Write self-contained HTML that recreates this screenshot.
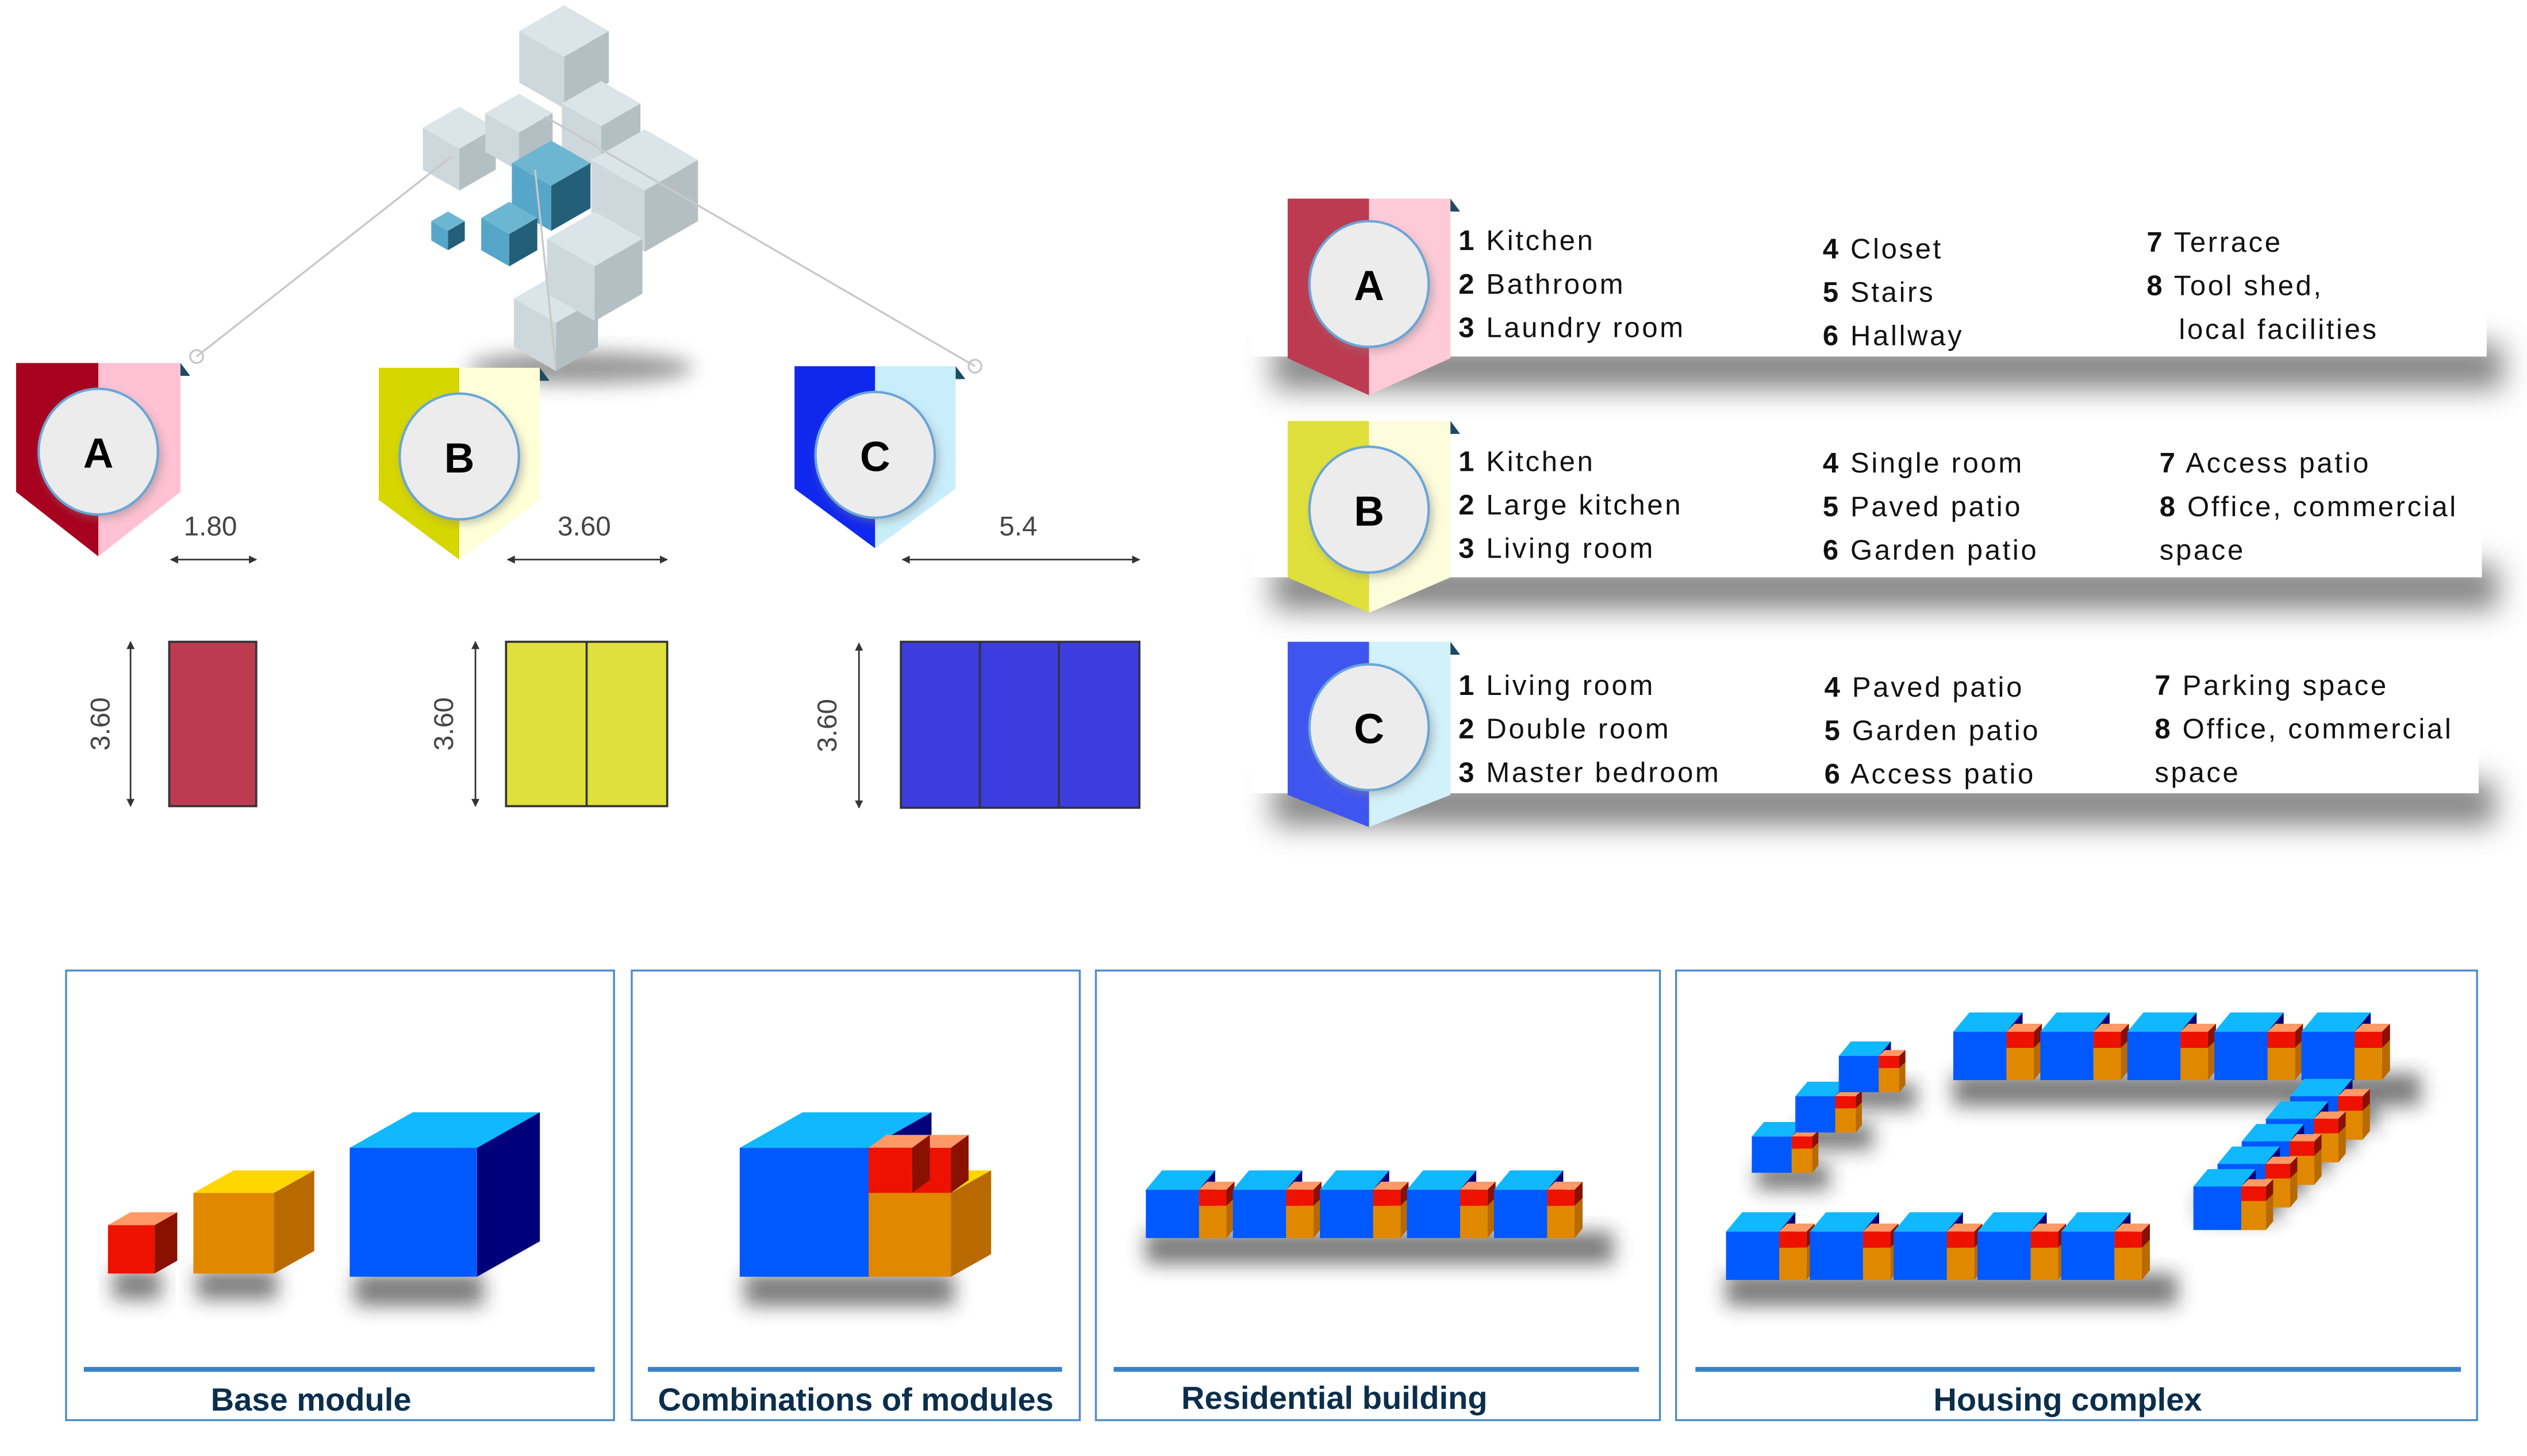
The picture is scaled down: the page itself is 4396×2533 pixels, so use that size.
<!DOCTYPE html>
<html><head><meta charset="utf-8"><style>
html,body{margin:0;padding:0;background:#fff}
svg{display:block}
.t{font-family:"Liberation Sans",sans-serif;font-size:17.5px;fill:#111;letter-spacing:1.3px}
.t tspan.n{font-weight:bold}
.dim{font-family:"Liberation Sans",sans-serif;font-size:17px;fill:#444}
.lbl{font-family:"Liberation Sans",sans-serif;font-size:20px;font-weight:bold;fill:#0b2e4c;text-anchor:middle}
.L{font-family:"Liberation Sans",sans-serif;font-size:26px;font-weight:bold;fill:#000;text-anchor:middle}
</style></head><body>
<svg id="s" width="4396" height="2533" viewBox="0 0 1568 903" xmlns="http://www.w3.org/2000/svg">
<defs>
<filter id="bl" x="-30%" y="-50%" width="160%" height="250%"><feGaussianBlur stdDeviation="6"/></filter>
<filter id="bl3" x="-30%" y="-80%" width="160%" height="300%"><feGaussianBlur stdDeviation="9"/></filter>
<filter id="bl2" x="-30%" y="-30%" width="160%" height="200%"><feGaussianBlur stdDeviation="3"/></filter>
<marker id="ar" viewBox="0 0 10 10" refX="9" refY="5" markerWidth="7" markerHeight="5" orient="auto-start-reverse"><path d="M0,0L10,5L0,10z" fill="#333"/></marker>
</defs>
<g id="cluster"></g>
<g stroke="#c8c8c8" stroke-width="1.2" fill="none">
<line x1="280" y1="97" x2="122" y2="221"/>
<line x1="338" y1="72" x2="605" y2="227"/>
<line x1="332" y1="105" x2="345" y2="228"/>
<circle cx="122" cy="221" r="4"/><circle cx="605" cy="227" r="4"/>
</g>
<g id="banners"></g>
<text class="dim" x="114" y="332">1.80</text>
<text class="dim" x="346" y="332">3.60</text>
<text class="dim" x="620" y="332">5.4</text>
<g stroke="#333" stroke-width="1" marker-start="url(#ar)" marker-end="url(#ar)">
<line x1="106" y1="347" x2="159" y2="347"/>
<line x1="315" y1="347" x2="414" y2="347"/>
<line x1="560" y1="347" x2="707" y2="347"/>
<line x1="81" y1="398" x2="81" y2="500"/>
<line x1="295" y1="398" x2="295" y2="500"/>
<line x1="533" y1="399" x2="533" y2="501"/>
</g>
<text class="dim" transform="translate(68,449) rotate(-90)" text-anchor="middle">3.60</text>
<text class="dim" transform="translate(281,449) rotate(-90)" text-anchor="middle">3.60</text>
<text class="dim" transform="translate(519,450) rotate(-90)" text-anchor="middle">3.60</text>
<g stroke="#333" stroke-width="1.3">
<rect x="105" y="398" width="54" height="102" fill="#bc3b50"/>
<rect x="314" y="398" width="100" height="102" fill="#e0e03c"/>
<line x1="364" y1="398" x2="364" y2="500"/>
<rect x="559" y="398" width="148" height="103" fill="#3d3ce0"/>
<line x1="608" y1="398" x2="608" y2="501"/><line x1="657" y1="398" x2="657" y2="501"/>
</g>
<g class="t">
<text x="905" y="155"><tspan class="n">1</tspan> Kitchen</text>
<text x="905" y="182"><tspan class="n">2</tspan> Bathroom</text>
<text x="905" y="209"><tspan class="n">3</tspan> Laundry room</text>
<text x="1131" y="160"><tspan class="n">4</tspan> Closet</text>
<text x="1131" y="187"><tspan class="n">5</tspan> Stairs</text>
<text x="1131" y="214"><tspan class="n">6</tspan> Hallway</text>
<text x="1332" y="156"><tspan class="n">7</tspan> Terrace</text>
<text x="1332" y="183"><tspan class="n">8</tspan> Tool shed,</text>
<text x="1352" y="210">local facilities</text>

<text x="905" y="292"><tspan class="n">1</tspan> Kitchen</text>
<text x="905" y="319"><tspan class="n">2</tspan> Large kitchen</text>
<text x="905" y="346"><tspan class="n">3</tspan> Living room</text>
<text x="1131" y="293"><tspan class="n">4</tspan> Single room</text>
<text x="1131" y="320"><tspan class="n">5</tspan> Paved patio</text>
<text x="1131" y="347"><tspan class="n">6</tspan> Garden patio</text>
<text x="1340" y="293"><tspan class="n">7</tspan> Access patio</text>
<text x="1340" y="320"><tspan class="n">8</tspan> Office, commercial</text>
<text x="1340" y="347">space</text>

<text x="905" y="431"><tspan class="n">1</tspan> Living room</text>
<text x="905" y="458"><tspan class="n">2</tspan> Double room</text>
<text x="905" y="485"><tspan class="n">3</tspan> Master bedroom</text>
<text x="1132" y="432"><tspan class="n">4</tspan> Paved patio</text>
<text x="1132" y="459"><tspan class="n">5</tspan> Garden patio</text>
<text x="1132" y="486"><tspan class="n">6</tspan> Access patio</text>
<text x="1337" y="431"><tspan class="n">7</tspan> Parking space</text>
<text x="1337" y="458"><tspan class="n">8</tspan> Office, commercial</text>
<text x="1337" y="485">space</text>
</g>
<g fill="none" stroke="#4a8ad0" stroke-width="1.2">
<rect x="41" y="602" width="340" height="279"/>
<rect x="392" y="602" width="278" height="279"/>
<rect x="680" y="602" width="350" height="279"/>
<rect x="1040" y="602" width="497" height="279"/>
</g>
<g fill="#3a80c8">
<rect x="52" y="848" width="317" height="3"/>
<rect x="402" y="848" width="257" height="3"/>
<rect x="691" y="848" width="326" height="3"/>
<rect x="1052" y="848" width="475" height="3"/>
</g>
<text class="lbl" x="193" y="875">Base module</text>
<text class="lbl" x="531" y="875">Combinations of modules</text>
<text class="lbl" x="828" y="874">Residential building</text>
<text class="lbl" x="1283" y="875">Housing complex</text>
<g id="blocks"></g>
</svg>
<script>
var NS="http://www.w3.org/2000/svg";
function el(p,tag,a){var e=document.createElementNS(NS,tag);for(var k in a)e.setAttribute(k,a[k]);p.appendChild(e);return e;}
function P(pts){return pts.map(function(p){return p[0].toFixed(1)+","+p[1].toFixed(1)}).join(" ");}
var cl=document.getElementById("cluster");
el(cl,"ellipse",{cx:360,cy:228,rx:70,ry:10,fill:"#555",filter:"url(#bl)",opacity:0.6});
function iso(cx,cy,r,c){
 el(cl,"polygon",{points:P([[cx,cy-r],[cx+r*0.87,cy-r/2],[cx,cy],[cx-r*0.87,cy-r/2]]),fill:c[0]});
 el(cl,"polygon",{points:P([[cx-r*0.87,cy-r/2],[cx,cy],[cx,cy+r],[cx-r*0.87,cy+r/2]]),fill:c[1]});
 el(cl,"polygon",{points:P([[cx+r*0.87,cy-r/2],[cx,cy],[cx,cy+r],[cx+r*0.87,cy+r/2]]),fill:c[2]});
}
var G=["#dbe4e8","#cdd7dc","#b4bfc4"],T=["#6cb6d2","#55a6c8","#245f7a"];
iso(350,35,32,G);iso(285,92,26,G);iso(322,82,24,G);iso(373,78,28,G);iso(400,118,38,G);
iso(345,200,30,G);iso(369,165,34,G);iso(342,115,28,T);iso(316,145,20,T);iso(278,143,12,T);
var bn=document.getElementById("banners");
function banner(x,top,w,side,tip,dark,light,L,cy){
 var m=x+w/2;
 el(bn,"polygon",{points:P([[x,top],[m,top],[m,tip],[x,side]]),fill:dark});
 el(bn,"polygon",{points:P([[m,top],[x+w,top],[x+w,side],[m,tip]]),fill:light});
 el(bn,"polygon",{points:P([[x+w,top],[x+w+6,top+8],[x+w,top+8]]),fill:"#1e4a63"});
 el(bn,"ellipse",{cx:m+2,cy:cy+3,rx:37,ry:38,fill:"#888",filter:"url(#bl2)",opacity:0.6});
 el(bn,"ellipse",{cx:m,cy:cy,rx:37,ry:39,fill:"#ececec",stroke:"#6aa6d6","stroke-width":1.5});
 var t=el(bn,"text",{x:m,y:cy+10,"class":"L"});t.textContent=L;
}
function box(x,y,w,h){
 el(bn,"rect",{x:x+15,y:y+h-8,width:w-5,height:28,fill:"#666",filter:"url(#bl3)",opacity:0.8});
 el(bn,"rect",{x:x,y:y,width:w,height:h,fill:"#fff"});
}
box(775,133,768,88);box(775,270,765,88);box(775,407,763,85);
banner(10,225,102,305,345,"#a8001f","#ffc1d3","A",280);
banner(235,228,100,310,347,"#d6d600","#ffffd8","B",283);
banner(493,227,100,303,340,"#1028ee","#c8eefb","C",282);
banner(799,123,101,222,245,"#bc3b50","#ffcad8","A",176);
banner(799,261,101,358,380,"#e0e03c","#fdfddc","B",316);
banner(799,398,101,493,513,"#3f55f0","#d2f1fa","C",451);
var bk=document.getElementById("blocks");
function cube(x,y,w,h,dx,dy,c){
 el(bk,"polygon",{points:P([[x,y],[x+dx,y-dy],[x+w+dx,y-dy],[x+w,y]]),fill:c[0]});
 el(bk,"polygon",{points:P([[x+w,y],[x+w+dx,y-dy],[x+w+dx,y+h-dy],[x+w,y+h]]),fill:c[2]});
 el(bk,"rect",{x:x,y:y,width:w,height:h,fill:c[1]});
}
function shadow(x,y,w,h){el(bk,"rect",{x:x,y:y,width:w,height:h,fill:"#222",filter:"url(#bl)",opacity:0.6});}
var B=["#10b8ff","#0058ff","#00007a"],O=["#ffd700","#e08800","#b86a00"],R=["#ff9966","#ee1100","#8a1000"];
shadow(70,788,30,18);shadow(122,788,50,18);shadow(220,790,80,20);
cube(67,760,29,30,14,8,R);cube(120,740,50,50,25,14,O);cube(217,712,79,80,39,22,B);
shadow(462,790,130,20);
cube(459,712,80,80,39,22,B);cube(539,740,51,52,25,14,O);cube(566,712,24,28,11,8,R);cube(539,712,27,28,11,8,R);
function unit(x,y,s){
 s=s||1;
 cube(x,y,33*s,30*s,10*s,12*s,B);
 cube(x+33*s,y+10*s,17*s,20*s,5*s,6*s,O);
 cube(x+33*s,y,17*s,10*s,5*s,5*s,R);
}
function row(x0,y0,n,stepx,stepy){
 shadow(x0,y0+26,n*stepx+20,20);
 for(var i=0;i<n;i++)unit(x0+i*stepx,y0+i*stepy);
}
row(711,738,5,54,0);
row(1212,640,5,54,0);
row(1071,764,5,52,0);
for(var i=0;i<3;i++){shadow(1090+i*27,722-i*25,45,16);}
for(var i=0;i<3;i++)unit(1087+i*27,705-i*25,0.75);
for(var i=0;i<5;i++)shadow(1365+i*15,740-i*14,50,16);
for(var i=4;i>=0;i--)unit(1361+i*15,736-i*14,0.9);
</script>
</body></html>
